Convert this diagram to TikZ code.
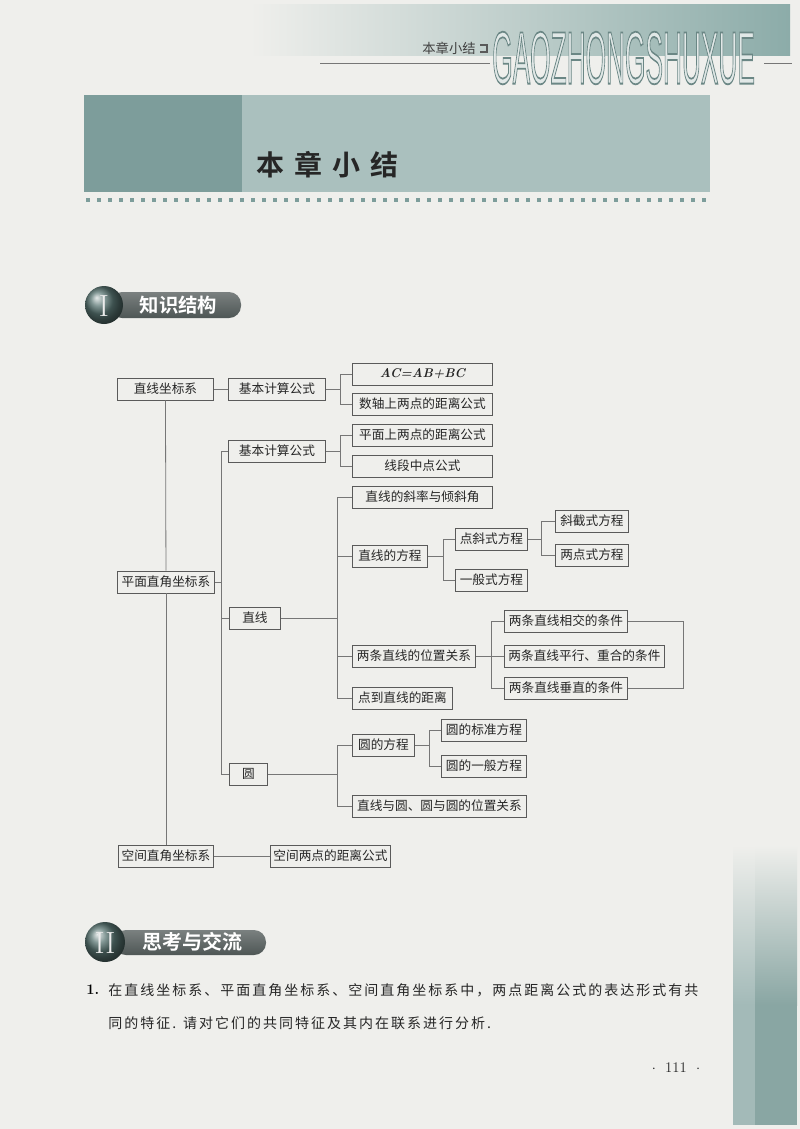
\documentclass[tikz,border=0pt]{standalone}
\usepackage{fontspec}
\usepackage{graphicx}
\newfontfamily\cjk{Noto Sans CJK SC}[BoldFont={Noto Sans CJK SC Bold}]
\newfontfamily\headsf{Liberation Sans}
\usetikzlibrary{calc}
\definecolor{PageBg}{RGB}{239, 239, 236}
\definecolor{BoxLine}{RGB}{90, 90, 90}
\definecolor{LinkGray}{RGB}{118, 118, 118}
\definecolor{TealDark}{RGB}{125, 157, 155}
\definecolor{TealLight}{RGB}{170, 192, 190}
\definecolor{HeadTeal}{RGB}{140, 172, 169}
\definecolor{HeadFill}{RGB}{225, 232, 231}
\definecolor{BadgeBar}{RGB}{78, 86, 85}
\definecolor{BadgeBall}{RGB}{88, 116, 113}
\definecolor{StripLight}{RGB}{163, 186, 184}
\definecolor{StripDark}{RGB}{137, 166, 163}
% outlined lettering for the running head
\newcommand{\outlinetext}[1]{\textcolor{HeadFill}{\special{pdf:code 2 Tr 1.2 w 0.42 0.53 0.52 RG}#1\special{pdf:code 0 Tr}}}
\tikzset{
  kbox/.style={rectangle, draw=BoxLine, fill=PageBg, line width=0.7pt,
               minimum width=#1*0.75pt, minimum height=16.5pt, inner sep=1pt,
               font=\cjk\fontsize{9.5}{11}\selectfont, text=black!85},
  link/.style={draw=LinkGray, line width=0.6pt},
  badgebar/.style={top color=BadgeBar!75, bottom color=BadgeBar, rounded corners=9pt},
  badgeball/.style={ball color=BadgeBall},
  badgetxt/.style={font=\cjk\bfseries\fontsize{14.5}{16}\selectfont, text=white, anchor=west},
  numeral/.style={font=\fontsize{23}{23}\selectfont, text=gray!15},
  bodytxt/.style={font=\cjk\fontsize{10.5}{12}\selectfont\addfontfeature{LetterSpace=14.3},
                  text=black!85, anchor=west, inner sep=0pt},
}

\begin{document}
\begin{tikzpicture}[x=0.75pt, y=-0.75pt]
  \fill[PageBg] (0,0) rectangle (800,1129);
  \useasboundingbox (0,0) rectangle (800,1129);

  % running head
  \shade[left color=PageBg, right color=HeadTeal] (250,4) rectangle (790,55);
  \draw[link] (320,63) -- (490,63);
  \draw[link] (764,63) -- (792,63);
  \node[font=\cjk\fontsize{10}{12}\selectfont, text=black!75] (runhead) at (449,48) {本章小结};
  \draw[BoxLine, line width=0.8pt] (480,45) -- (487,45) -- (487,52) -- (480,52);
  \node[inner sep=0pt, anchor=west] (pinyin) at (492,58)
        {\resizebox{197pt}{39pt}{\headsf\fontsize{50}{50}\selectfont\outlinetext{GAOZHONGSHUXUE}}};

  % title band
  \fill[TealDark] (84,95) rectangle (242,192);
  \fill[TealLight] (242,95) rectangle (710,192);
  \node[font=\cjk\bfseries\fontsize{21}{24}\selectfont, text=black!85, anchor=west] (title)
        at (252,165) {\addfontfeature{LetterSpace=36}本章小结};
  \foreach \i in {0,...,56}
    \fill[TealDark] ({86+\i*11},198) rectangle ++(4,4);

  % section I
  \shade[badgebar] (110,292) rectangle (241,318);
  \shade[badgeball] (104,305) circle (19);
  \node[numeral] (numI) at (104,306) {I};
  \node[badgetxt] (secI) at (135,305) {知识结构};

  % knowledge tree
  \node[kbox=96, anchor=west] (zx) at (117,389) {直线坐标系};
  \node[kbox=97, anchor=west] (jb1) at (228,389) {基本计算公式};
  \node[kbox=140, anchor=west] (ac) at (352,374) {\rmfamily\bfseries\itshape AC=AB+BC};
  \node[kbox=140, anchor=west] (sz) at (352,404) {数轴上两点的距离公式};
  \node[kbox=97, anchor=west] (jb2) at (228,451) {基本计算公式};
  \node[kbox=140, anchor=west] (pmd) at (352,435) {平面上两点的距离公式};
  \node[kbox=140, anchor=west] (xd) at (352,466) {线段中点公式};
  \node[kbox=97, anchor=west] (pm) at (117,582) {平面直角坐标系};
  \node[kbox=51, anchor=west] (zhix) at (229,618) {直线};
  \node[kbox=140, anchor=west] (xl) at (352,497) {直线的斜率与倾斜角};
  \node[kbox=75, anchor=west] (fc) at (352,556) {直线的方程};
  \node[kbox=72, anchor=west] (dx) at (455,539) {点斜式方程};
  \node[kbox=72, anchor=west] (yb) at (455,580) {一般式方程};
  \node[kbox=73, anchor=west] (xj) at (555,521) {斜截式方程};
  \node[kbox=73, anchor=west] (ld) at (555,555) {两点式方程};
  \node[kbox=123, anchor=west] (wz) at (352,656) {两条直线的位置关系};
  \node[kbox=123, anchor=west] (xjt) at (504,621) {两条直线相交的条件};
  \node[kbox=160, anchor=west] (px) at (504,656) {两条直线平行、重合的条件};
  \node[kbox=123, anchor=west] (cz) at (504,688) {两条直线垂直的条件};
  \node[kbox=100, anchor=west] (dj) at (352,698) {点到直线的距离};
  \node[kbox=38, anchor=west] (yuan) at (229,774) {圆};
  \node[kbox=62, anchor=west] (yfc) at (352,745) {圆的方程};
  \node[kbox=85, anchor=west] (ybz) at (441,730) {圆的标准方程};
  \node[kbox=85, anchor=west] (yyb) at (441,766) {圆的一般方程};
  \node[kbox=174, anchor=west] (ywz) at (352,806) {直线与圆、圆与圆的位置关系};
  \node[kbox=95, anchor=west] (kj) at (118,856) {空间直角坐标系};
  \node[kbox=120, anchor=west] (kjd) at (270,856) {空间两点的距离公式};

  \draw[link] (zx.east) -- (jb1.west);
  \draw[link] (jb1.east) -- ++(14,0) coordinate (b1) |- (ac.west);
  \draw[link] (b1) |- (sz.west);
  \draw[link] (jb2.east) -- ++(14,0) coordinate (b2) |- (pmd.west);
  \draw[link] (b2) |- (xd.west);
  \draw[link] (zx.south) -- (pm.north);
  \draw[link] (pm.south) -- (kj.north);
  \draw[link] (jb2.west) -- ++(-7,0) coordinate (t2) |- (yuan.west);
  \draw[link] (t2) |- (zhix.west);
  \draw[link] (pm.east) -- (pm.east -| t2);
  \draw[link] (xl.west) -- ++(-15,0) coordinate (t3) |- (dj.west);
  \draw[link] (zhix.east) -- (zhix.east -| t3);
  \draw[link] (fc.west) -- (fc.west -| t3);
  \draw[link] (wz.west) -- (wz.west -| t3);
  \draw[link] (fc.east) -- ++(15,0) coordinate (b3) |- (dx.west);
  \draw[link] (b3) |- (yb.west);
  \draw[link] (dx.east) -- ++(13,0) coordinate (b4) |- (xj.west);
  \draw[link] (b4) |- (ld.west);
  \draw[link] (wz.east) -- ++(15,0) coordinate (b5) |- (xjt.west);
  \draw[link] (b5) |- (cz.west);
  \draw[link] (wz.east) -- (px.west);
  \draw[link] (xjt.east) -- ++(55,0) |- (cz.east);
  \draw[link] (yfc.west) -- ++(-15,0) coordinate (t4) |- (ywz.west);
  \draw[link] (yuan.east) -- (yuan.east -| t4);
  \draw[link] (yfc.east) -- ++(14,0) coordinate (b6) |- (ybz.west);
  \draw[link] (b6) |- (yyb.west);
  \draw[link] (kj.east) -- (kjd.west);

  % section II
  \shade[badgebar] (114,930) rectangle (266,955);
  \shade[badgeball] (105,942) circle (20);
  \node[numeral] (numII) at (105,943) {II};
  \node[badgetxt, font=\cjk\bfseries\fontsize{15}{17}\selectfont] (secII) at (138,942) {思考与交流};

  \node[font=\bfseries\fontsize{11}{13}\selectfont, anchor=west, inner sep=0pt] (q1no) at (86,990) {1.};
  \node[bodytxt] (q1a) at (108,990) {在直线坐标系、平面直角坐标系、空间直角坐标系中，两点距离公式的表达形式有共};
  \node[bodytxt] (q1b) at (108,1023) {同的特征. 请对它们的共同特征及其内在联系进行分析.};

  % page number and edge strip
  \node[font=\fontsize{11}{13}\selectfont, text=black!85] (pageno) at (676,1068)
        {$\cdot$\hspace{7pt}111\hspace{7pt}$\cdot$};
  \shade[top color=PageBg, bottom color=StripLight] (733,845) rectangle (755,1005);
  \fill[StripLight] (733,1005) rectangle (755,1125);
  \shade[top color=PageBg, bottom color=StripDark] (755,845) rectangle (797,1005);
  \fill[StripDark] (755,1005) rectangle (797,1125);
\end{tikzpicture}
\end{document}
